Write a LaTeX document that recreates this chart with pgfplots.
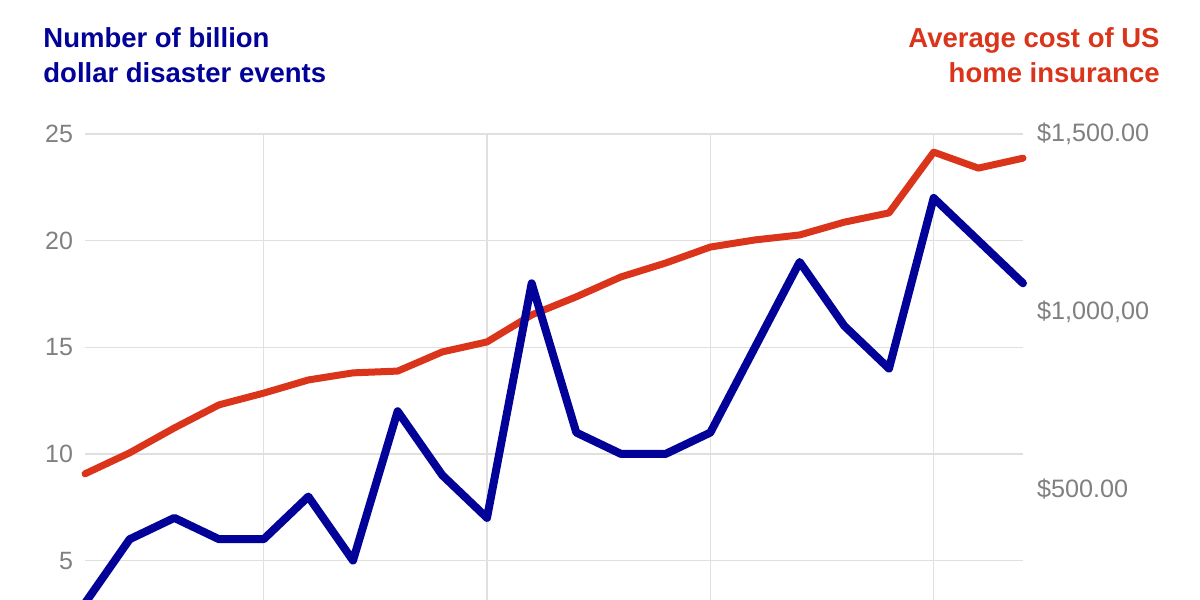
\documentclass[border=0pt]{standalone}
\usepackage{pgfplots}
\pgfplotsset{compat=1.18}
\usepackage{fontspec}
\setmainfont{Liberation Sans}
\definecolor{myblue}{RGB}{2,2,152}
\definecolor{myred}{RGB}{218,52,26}
\definecolor{ticgray}{RGB}{128,128,128}
\definecolor{gridgray}{RGB}{224,224,224}
\pgfplotsset{
  base/.style={at={(0pt,0pt)}, anchor=south west, scale only axis,
    width=469pt, height=233pt, xmin=2001, xmax=2022,
    axis line style={draw=none}, major tick length=0pt, tick style={draw=none},
    clip=false},
}
\begin{document}
\begin{tikzpicture}
\useasboundingbox (-42.5pt,0pt) rectangle (557.5pt,300pt);
% grid + left ticks
\begin{axis}[base, ymin=3.15, ymax=25,
  xtick={2005,2010,2015,2020}, xticklabels={},
  ytick={5,10,15,20,25}, yticklabels={5,10,15,20,25},
  grid=major, major grid style={gridgray, line width=0.75pt},
  yticklabel style={font=\fontsize{12.5}{14}\selectfont, text=ticgray, xshift=-2.5pt}]
\end{axis}
% red: home insurance (right axis)
\begin{axis}[base, ymin=189, ymax=1500,
  xtick=\empty, ytick={500,1000,1500},
  yticklabels={{\$500.00},{\$1,000,00},{\$1,500.00}},
  yticklabel pos=right,
  yticklabel style={font=\fontsize{12.6}{14}\selectfont, text=ticgray, xshift=3.5pt}]
\addplot[myred, line width=3.5pt, line join=round, line cap=round] coordinates {
(2001,544) (2002,603) (2003,673) (2004,738) (2005,771) (2006,808) (2007,828)
(2008,833) (2009,887) (2010,915) (2011,991) (2012,1042) (2013,1098) (2014,1137)
(2015,1182) (2016,1202) (2017,1216) (2018,1252) (2019,1278) (2020,1449)
(2021,1404) (2022,1432)};
\end{axis}
% blue: billion dollar disasters (left axis)
\begin{axis}[base, ymin=3.15, ymax=25, hide axis]
\addplot[myblue, line width=4pt, line join=round, line cap=round] coordinates {
(2001,3) (2002,6) (2003,7) (2004,6) (2005,6) (2006,8) (2007,5) (2008,12)
(2009,9) (2010,7) (2011,18) (2012,11) (2013,10) (2014,10) (2015,11) (2016,15)
(2017,19) (2018,16) (2019,14) (2020,22) (2021,20) (2022,18)};
\end{axis}
\node[anchor=base west, inner sep=0pt, text=myblue, font=\bfseries\fontsize{13.75}{16}\selectfont] at (-21pt,276pt) {Number of billion};
\node[anchor=base west, inner sep=0pt, text=myblue, font=\bfseries\fontsize{13.75}{16}\selectfont] at (-21pt,258.5pt) {dollar disaster events};
\node[anchor=base east, inner sep=0pt, text=myred, font=\bfseries\fontsize{13.75}{16}\selectfont] at (537.5pt,276pt) {Average cost of US};
\node[anchor=base east, inner sep=0pt, text=myred, font=\bfseries\fontsize{13.75}{16}\selectfont] at (537.5pt,258.5pt) {home insurance};
\end{tikzpicture}
\end{document}
